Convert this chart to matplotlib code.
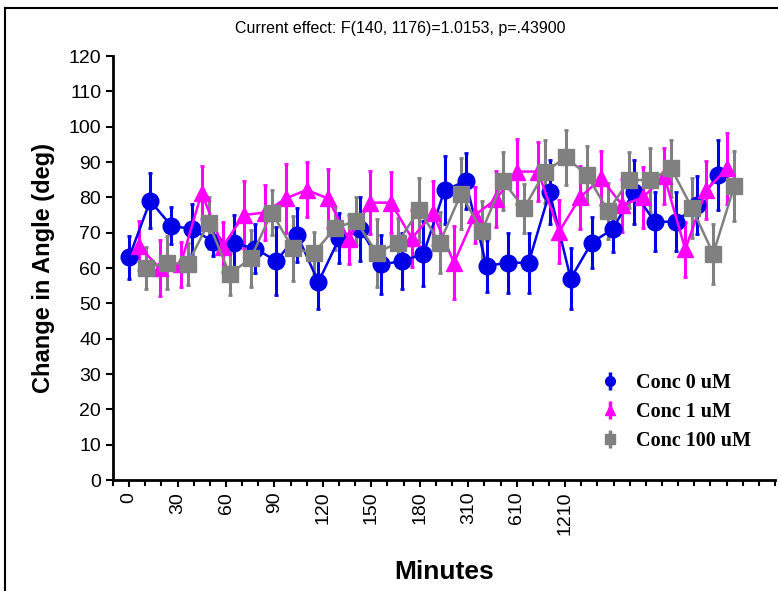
import numpy as np
import matplotlib
matplotlib.use('Agg')
import matplotlib.pyplot as plt
from matplotlib.lines import Line2D
from matplotlib.legend_handler import HandlerErrorbar

# --- Data ---
tick_labels = ['0', '30', '60', '90', '120', '150', '180', '310', '610', '1210']

conc0_mean = [63, 79, 72, 71, 67.5, 67, 65.5, 62, 69.3, 56, 68.5, 71, 61, 62, 64,
              82, 84.6, 60.6, 61.5, 61.5, 81.5, 57, 67.2, 71, 81.6, 73.1, 73.1, 77.8, 86.3]
conc0_err = [6, 7.8, 5.3, 7, 4, 8, 7, 9.5, 7.7, 7.5, 7, 9, 8.4, 7.8, 9.2,
             9.6, 8, 7.3, 8.5, 8.5, 9, 8.7, 7.3, 6.6, 9, 8.3, 8.3, 8.2, 10]

conc1_mean = [66.3, 60, 61, 81.3, 66, 75, 75.7, 79.7, 82.1, 79.7, 68.1, 78.5, 78.5, 68.4, 75.5,
              61.5, 75, 79.5, 87.3, 87.3, 70.3, 80, 85.4, 77.8, 80, 86, 65.3, 82.1, 88.2]
conc1_err = [6.9, 8, 6.5, 7.5, 7, 9.5, 7.8, 9.7, 7.8, 8.3, 7, 9, 8.7, 8, 9,
             10.4, 8, 8, 9.2, 8.3, 9, 9, 7.6, 7.5, 8.7, 8, 7.8, 8.3, 10]

conc100_mean = [60, 61.5, 61.1, 72.8, 58.3, 62.7, 75.7, 65.6, 64.2, 71.2, 73.4, 64.3, 67.2, 76.4, 67.2,
                81, 70.5, 84.6, 76.9, 87.3, 91.3, 86.3, 76.1, 84.9, 84.9, 88.2, 76.9, 64, 83.2]
conc100_err = [6, 7.5, 6, 7.3, 6, 8.2, 6.4, 9.2, 6, 6, 6.8, 9.7, 7, 9, 8.7,
               10, 8.5, 8.3, 7, 9, 7.8, 8.3, 8, 7.8, 9, 8, 8.5, 8.5, 10]

plt.rcParams['font.family'] = ['Liberation Sans', 'DejaVu Sans']

fig = plt.figure(figsize=(7.78, 5.91), dpi=100)
ax = fig.add_axes([0.1452, 0.1878, 0.851, 0.7174])

idx = np.arange(len(conc0_mean))
series = [
    ('Conc 0 uM', conc0_mean, conc0_err, '#0000E6', 'o', 12, 0.0),
    ('Conc 1 uM', conc1_mean, conc1_err, '#FF00FF', '^', 11, 0.45),
    ('Conc 100 uM', conc100_mean, conc100_err, '#808080', 's', 12, 0.78),
]
handles = []
for label, mean, err, color, marker, ms, off in series:
    ax.errorbar(idx + off, mean, yerr=err, color=color, marker=marker, markersize=ms,
                linewidth=1.8, elinewidth=2.2, capsize=1.5, capthick=2,
                markeredgecolor=color)
    # small legend icon: marker with error caps, no connecting line
    h = ax.errorbar([], [], yerr=[], color=color, marker=marker, markersize=7,
                    linestyle='none', elinewidth=2.5, capsize=6, capthick=2.5,
                    label=label)
    handles.append(h)

# axes styling
ax.set_ylim(0, 120)
ax.set_yticks(np.arange(0, 121, 10))
ax.set_xlim(-0.66, 30.65)
step = 2.304
ax.set_xticks(np.arange(len(tick_labels)) * step)
ax.set_xticklabels(tick_labels, rotation=90)
ax.set_xticks(np.arange(-1, 41) * step / 3, minor=True)
ax.tick_params(axis='both', which='major', labelsize=14, direction='out', length=5, width=1.5)
ax.tick_params(axis='x', which='minor', direction='out', length=4, width=1.5)
for s in ['top', 'right']:
    ax.spines[s].set_visible(False)
for s in ['left', 'bottom']:
    ax.spines[s].set_linewidth(2)

ax.set_ylabel('Change in Angle (deg)', fontsize=17, fontweight='bold', labelpad=10)
ax.set_xlabel('Minutes', fontsize=19, fontweight='bold', labelpad=18)
fig.text(0.514, 0.952, 'Current effect: F(140, 1176)=1.0153, p=.43900',
         ha='center', va='center', fontsize=11.5)

ax.legend(handles=handles, loc='upper left', bbox_to_anchor=(0.748, 0.4),
          bbox_transform=fig.transFigure, frameon=False, handlelength=1.0,
          handletextpad=0.8, labelspacing=0.45,
          handler_map={type(handles[0]): HandlerErrorbar(yerr_size=0.45)},
          prop={'family': 'Liberation Serif', 'weight': 'bold', 'size': 14.5})

# outer frame of the exported graph
fig.add_artist(Line2D([0.0064, 0.0064], [0.0, 0.9865], color='black', linewidth=1.5,
                      transform=fig.transFigure))
fig.add_artist(Line2D([0.0064, 1.0], [0.9865, 0.9865], color='black', linewidth=1.5,
                      transform=fig.transFigure))

plt.savefig('out.png', dpi=100)
